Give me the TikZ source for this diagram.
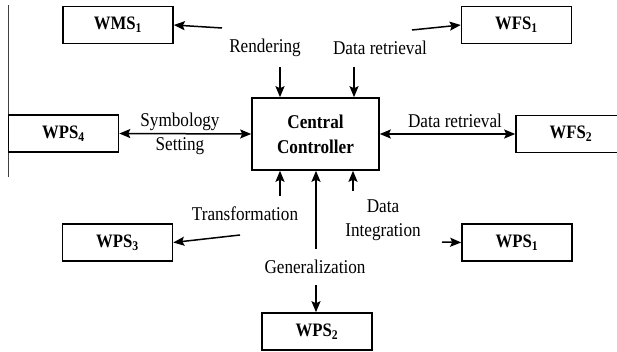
\documentclass[tikz,border=0pt]{standalone}
\usepackage{fontspec}
\setmainfont[FakeStretch=0.88]{Liberation Serif}
\usepackage{tikz}
\usetikzlibrary{arrows.meta,positioning}

\begin{document}
\begin{tikzpicture}[
  x=1pt, y=-1pt,
  font=\fontsize{19.5}{24}\selectfont,
  svc/.style={draw, line width=1.6pt, minimum width=110pt, minimum height=37pt,
    inner sep=0pt, font=\fontsize{19}{24}\selectfont\bfseries},
  ctrlbox/.style={draw, line width=1.6pt, minimum width=127pt, minimum height=72pt,
    align=center, inner sep=0pt, font=\fontsize{19.5}{25}\selectfont\bfseries},
  lbl/.style={align=center, inner sep=0pt},
  arr/.style={-{Stealth[length=11pt,width=9pt,inset=2pt]}, line width=1.5pt},
  darr/.style={{Stealth[length=11pt,width=9pt,inset=2pt]}-{Stealth[length=11pt,width=9pt,inset=2pt]}, line width=1.5pt},
]
\useasboundingbox (0,0) rectangle (617,352);
% stray frame line on the left
\draw[line width=0.8pt, black!75] (8,5) -- (8,177);

% services
\node[ctrlbox] (ctrl) at (315.5,134) {Central\\Controller};
\node[svc] (wms1) at (118,25) {WMS\textsubscript{1}};
\node[svc] (wfs1) at (516.5,25) {WFS\textsubscript{1}};
\node[svc] (wps4) at (63.5,133.5) {WPS\textsubscript{4}};
\node[svc] (wfs2) at (571,134) {WFS\textsubscript{2}};
\node[svc] (wps3) at (117.5,242.5) {WPS\textsubscript{3}};
\node[svc] (wps1) at (517,242.5) {WPS\textsubscript{1}};
\node[svc] (wps2) at (317,331.5) {WPS\textsubscript{2}};

% operation labels
\node[lbl] (rend) at (265,48) {Rendering};
\node[lbl] (retr1) at (380,48) {Data retrieval};
\node[lbl] (symb) at (180,134) {Symbology\\Setting};
\node[lbl] (retr2) at (455,121) {Data retrieval};
\node[lbl] (trans) at (245,214) {Transformation};
\node[lbl] (gen) at (315,267) {Generalization};
\node[lbl] (integ) at (383,220.5) {Data\\Integration};

% loose ends next to the labels
\coordinate (rendW) at (222,28);
\coordinate (rendS) at (280,67);
\coordinate (retrE) at (412,30);
\coordinate (retrS) at (354,67);
\coordinate (transN) at (280,196);
\coordinate (transW) at (240,235);
\coordinate (genN) at (316,249);
\coordinate (genS) at (316,285);
\coordinate (integN) at (353,191);
\coordinate (integE) at (442,242);

\draw[arr] (rendW) -- (wms1.east);
\draw[arr] (rendS) -- (rendS |- ctrl.north);
\draw[arr] (retrE) -- (wfs1.west);
\draw[arr] (retrS) -- (retrS |- ctrl.north);
\draw[darr] (wps4.east) -- (ctrl.west);
\draw[darr] (ctrl.east) -- (wfs2.west);
\draw[arr] (transN) -- (transN |- ctrl.south);
\draw[arr] (transW) -- (wps3.east);
\draw[arr] (genN) -- (genN |- ctrl.south);
\draw[arr] (genS) -- (genS |- wps2.north);
\draw[arr] (integN) -- (integN |- ctrl.south);
\draw[arr] (integE) -- (wps1.west);
\end{tikzpicture}
\end{document}
